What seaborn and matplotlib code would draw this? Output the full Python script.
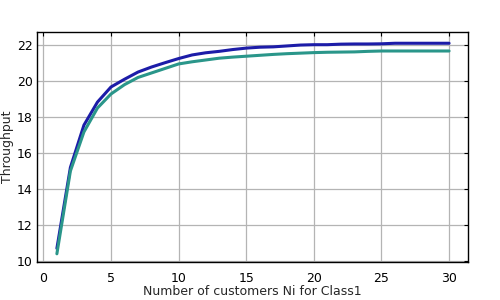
import numpy as np
import pandas as pd
import matplotlib
matplotlib.use("Agg")
import matplotlib.pyplot as plt
import seaborn as sns

n_customers = list(range(1, 31))
throughput_a = [10.7, 15.2, 17.55, 18.83, 19.67, 20.1, 20.5, 20.78, 21.02, 21.25,
                21.45, 21.57, 21.65, 21.75, 21.83, 21.88, 21.9, 21.95, 22.0, 22.02,
                22.02, 22.05, 22.06, 22.06, 22.07, 22.1, 22.1, 22.1, 22.1, 22.1]
throughput_b = [10.4, 15.0, 17.17, 18.5, 19.28, 19.8, 20.2, 20.45, 20.7, 20.95,
                21.07, 21.17, 21.27, 21.33, 21.38, 21.43, 21.48, 21.52, 21.55, 21.58,
                21.6, 21.61, 21.62, 21.65, 21.67, 21.67, 21.67, 21.67, 21.67, 21.67]
series_names = ["A", "B"]

df = pd.DataFrame({
    "n": n_customers * 2,
    "tp": throughput_a + throughput_b,
    "series": [series_names[0]] * len(n_customers) + [series_names[1]] * len(n_customers),
})

sns.set_style("white")
plt.rcParams['font.family'] = ['DejaVu Sans']

fig = plt.figure(figsize=(5, 3), dpi=100)
ax = fig.add_axes([0.074, 0.127, 0.862, 0.766])

sns.lineplot(data=df, x="n", y="tp", hue="series",
             palette={"A": "#1c1ca8", "B": "#2a968a"},
             linewidth=2.2, ax=ax, legend=False)

ax.set_xlim(-0.47, 31.4)
ax.set_ylim(9.95, 22.72)
ax.set_xticks([0, 5, 10, 15, 20, 25, 30])
ax.set_yticks([10, 12, 14, 16, 18, 20, 22])
ax.grid(True, color="#b4b4b4", linewidth=0.9)
ax.set_axisbelow(True)
for s in ax.spines.values():
    s.set_color("black")
    s.set_linewidth(1.0)
    s.set_visible(True)
ax.tick_params(direction="in", top=True, right=True, length=3, width=0.8,
               labelsize=9, colors="black", pad=3)
ax.tick_params(axis="x", pad=7)
ax.set_xlabel("Number of customers Ni for Class1", fontsize=9, labelpad=0)
ax.set_ylabel("Throughput", fontsize=9, labelpad=2)

fig.savefig("out.png", dpi=100)
